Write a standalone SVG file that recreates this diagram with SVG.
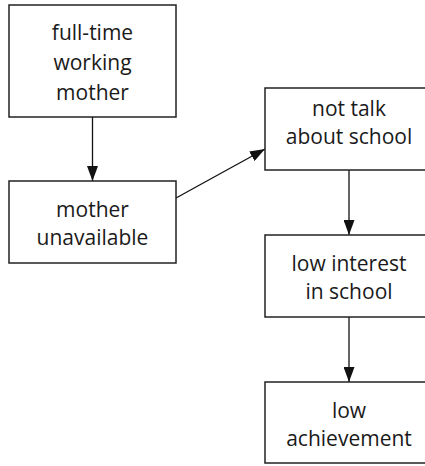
<svg xmlns="http://www.w3.org/2000/svg" width="425" height="466" viewBox="0 0 425 466">
<style>
rect.box{fill:#fff;stroke:#222;stroke-width:1.5}
text{font-family:"Open Sans","Noto Sans",sans-serif;font-size:21px;fill:#1a1a1a;text-anchor:middle}
line.c{stroke:#111;stroke-width:1.3;marker-end:url(#ah)}
</style>
<defs>
<marker id="ah" markerWidth="15" markerHeight="11" refX="15" refY="5.5" orient="auto" markerUnits="userSpaceOnUse">
<path d="M0,0 L15,5.5 L0,11 Z" fill="#111"/>
</marker>
</defs>
<rect width="425" height="466" fill="#fff"/>
<g id="connectors">
<line class="c" x1="92.5" y1="117" x2="92.5" y2="181"/>
<line class="c" x1="176" y1="198" x2="265" y2="149"/>
<line class="c" x1="349" y1="170" x2="349" y2="235"/>
<line class="c" x1="349" y1="317" x2="349" y2="382"/>
</g>
<g id="n1">
<rect class="box" x="9" y="5" width="167" height="112"/>
<text x="92.5" y="40">full-time</text>
<text x="92.5" y="70">working</text>
<text x="92.5" y="100">mother</text>
</g>
<g id="n2">
<rect class="box" x="9" y="181" width="167" height="82"/>
<text x="92.5" y="216.5">mother</text>
<text x="92.5" y="244.5">unavailable</text>
</g>
<g id="n3">
<rect class="box" x="265" y="88" width="167" height="82"/>
<text x="349" y="115.5">not talk</text>
<text x="349" y="143.5">about school</text>
</g>
<g id="n4">
<rect class="box" x="265" y="235" width="167" height="82"/>
<text x="349" y="271">low interest</text>
<text x="349" y="299">in school</text>
</g>
<g id="n5">
<rect class="box" x="265" y="382" width="167" height="81"/>
<text x="349" y="418">low</text>
<text x="349" y="446">achievement</text>
</g>
</svg>
